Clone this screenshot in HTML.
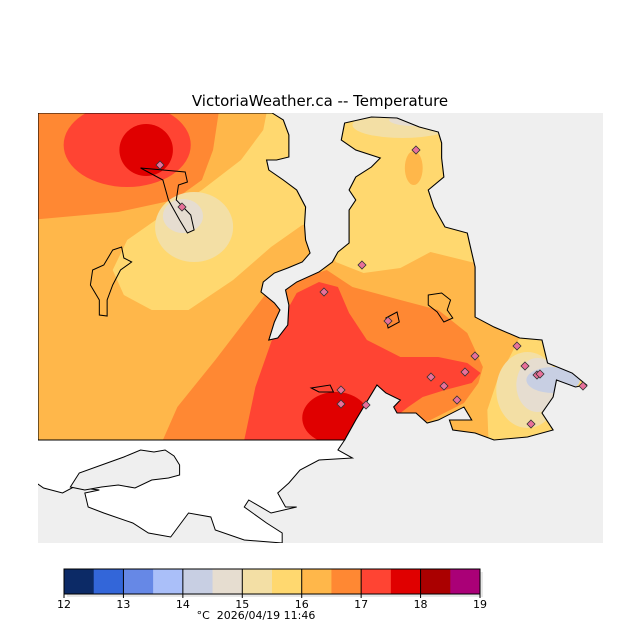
<!DOCTYPE html>
<html><head><meta charset="utf-8"><style>
html,body{margin:0;padding:0;background:#fff;width:640px;height:640px;overflow:hidden}
svg{display:block;font-family:"DejaVu Sans","Liberation Sans",sans-serif}
</style></head><body>
<svg id="chart" width="640" height="640" viewBox="0 0 640 640">
<text x="320" y="106" text-anchor="middle" font-size="15" fill="#000">VictoriaWeather.ca -- Temperature</text>
<defs>
<clipPath id="landclip"><path id="landpath" d="M38,113 L248,113 258,120 263,135 263,157 252,160 243,160 245,170 258,180 270,190 278,207 277,225 278,240 282,253 275,262 262,268 250,273 240,282 238,292 250,303 255,310 250,322 245,340 253,338 262,325 263,305 260,290 270,282 290,272 302,262 307,252 317,243 317,210 323,200 317,190 323,177 337,167 345,158 323,150 310,140 313,123 337,117 360,118 380,127 397,132 400,143 400,158 402,177 388,190 393,207 403,227 423,233 425,243 430,267 430,317 447,327 470,338 490,340 495,363 517,373 530,385 520,387 503,380 500,397 490,413 500,430 477,437 447,440 430,433 410,430 407,420 427,420 420,407 397,420 387,423 377,413 360,413 357,407 363,400 350,393 342,385 330,407 323,420 313,440 38,440 Z"/></clipPath>
<clipPath id="mapclip"><rect x="38" y="113" width="565" height="430"/></clipPath>
</defs>
<rect x="38" y="113" width="565" height="430" fill="#efefef"/>
<g clip-path="url(#mapclip)">
<g transform="translate(38,0) scale(1.115,1) translate(-38,0)">
<g clip-path="url(#landclip)">
<rect x="30" y="113" width="565" height="330" fill="#ffb74a"/>
<path d="M30,113 L200,113 195,150 185,180 160,200 110,212 30,220 Z" fill="#ff8833"/>
<ellipse cx="118" cy="145" rx="57" ry="42" fill="#ff4433"/>
<ellipse cx="135" cy="150" rx="24" ry="26" fill="#e00000"/>
<path d="M243,113 L290,113 290,225 275,225 247,247 213,280 173,310 140,310 115,295 105,270 118,240 150,215 185,190 220,160 240,130 Z" fill="#ffd86f"/>
<ellipse cx="178" cy="227" rx="35" ry="35" fill="#f3dfa5"/>
<ellipse cx="168" cy="216" rx="18" ry="17" fill="#e6ddd0"/>
<path d="M300,113 L440,113 440,263 430,263 390,252 363,268 330,273 305,262 300,240 Z" fill="#ffd86f"/>
<ellipse cx="365" cy="125" rx="45" ry="13" fill="#f3dfa5"/>
<ellipse cx="375" cy="120" rx="22" ry="6" fill="#e6ddd0"/>
<ellipse cx="375" cy="168" rx="8" ry="17" fill="#ffb74a"/>
<path d="M150,440 L163,407 197,360 243,293 262,282 297,270 320,287 363,300 397,310 423,333 437,367 433,383 420,403 390,420 370,425 330,440 Z" fill="#ff8833"/>
<path d="M223,440 L233,387 250,333 270,293 290,282 307,287 317,313 333,340 363,357 397,357 423,363 435,373 427,383 403,390 383,397 370,407 363,413 313,440 Z" fill="#ff4433"/>
<ellipse cx="305" cy="418" rx="30" ry="26" fill="#e00000"/>
<path d="M471,335 L560,335 560,440 442,440 441,410 450,380 462,355 Z" fill="#ffd86f"/>
<ellipse cx="477" cy="390" rx="28" ry="38" fill="#f3dfa5"/>
<ellipse cx="486" cy="385" rx="19" ry="27" fill="#e6ddd0"/>
<ellipse cx="500" cy="380" rx="24" ry="13" fill="#c8cfe3"/>
</g>
<use href="#landpath" fill="none" stroke="#000" stroke-width="1" vector-effect="non-scaling-stroke"/>
<path d="M30,440 L313,440 307,450 320,458 290,460 273,470 263,483 253,493 260,507 270,507 247,513 227,500 223,507 243,523 257,533 257,543 223,540 197,530 193,517 173,513 157,537 137,533 123,523 97,513 83,507 80,493 93,490 70,487 60,493 43,488 30,478 Z" fill="#fff" stroke="#000" stroke-width="1" vector-effect="non-scaling-stroke"/>
<path d="M67,487 L75,473 100,463 115,457 130,450 142,452 152,450 160,456 165,465 165,475 155,478 140,480 125,488 110,485 95,487 80,490 Z" fill="#efefef" stroke="#000" stroke-width="1" vector-effect="non-scaling-stroke"/>
<path d="M105,250 L113,247 115,258 122,262 112,270 105,285 100,300 100,316 93,315 93,300 85,285 87,270 97,265 Z" fill="none" stroke="#000" vector-effect="non-scaling-stroke"/>
<path d="M130,168 L170,172 172,182 164,185 162,200 175,215 178,230 172,233 165,220 155,200 150,180 Z" fill="none" stroke="#000" vector-effect="non-scaling-stroke"/>
<path d="M388,295 L400,293 408,300 405,310 410,318 402,322 396,312 388,305 Z" fill="none" stroke="#000" vector-effect="non-scaling-stroke"/>
<path d="M350,318 L360,312 362,322 352,328 Z M283,388 L300,385 303,392 290,392 Z" fill="none" stroke="#000" vector-effect="non-scaling-stroke"/>
</g>
</g>
<g id="stations"></g>
<g id="colorbar"></g>
<text x="256" y="619" text-anchor="middle" font-size="11" fill="#000" style="white-space:pre">°C  2026/04/19 11:46</text>
</svg>
<script>
const binColors = ["#0c2a66","#3366d9","#6688e6","#aabff9","#c8cfe3","#e6ddd0","#f3dfa5","#ffd86f","#ffb74a","#ff8833","#ff4433","#e00000","#aa0000","#aa0077"];
const tickLabels = [12,13,14,15,16,17,18,19];
const stationX = [160,182,416,362,324,388,475,517,465,431,444,525,537,540,583,341,341,366,457,531];
const stationY = [165,207,150,265,292,321,356,346,372,377,386,366,375,374,386,390,404,405,400,424];
const NS="http://www.w3.org/2000/svg";
const cb=document.getElementById('colorbar');
const x0=64,x1=480,y0=569,h=25,vmin=12,vmax=19;
const sx=v=>x0+(v-vmin)/(vmax-vmin)*(x1-x0);
const shadow=document.createElementNS(NS,'rect');
shadow.setAttribute('x',x0+3);shadow.setAttribute('y',y0+3);shadow.setAttribute('width',x1-x0);shadow.setAttribute('height',h);shadow.setAttribute('fill','#e8e8e8');


cb.appendChild(shadow);
binColors.forEach((c,i)=>{
  const v=vmin+i*0.5;
  const r=document.createElementNS(NS,'rect');
  r.setAttribute('x',sx(v));r.setAttribute('y',y0);r.setAttribute('width',sx(v+0.5)-sx(v)+0.3);r.setAttribute('height',h);r.setAttribute('fill',c);
  
  
  cb.appendChild(r);
});
const fr=document.createElementNS(NS,'rect');
fr.setAttribute('x',x0);fr.setAttribute('y',y0);fr.setAttribute('width',x1-x0);fr.setAttribute('height',h);fr.setAttribute('fill','none');fr.setAttribute('stroke','#000');


cb.appendChild(fr);
tickLabels.forEach(t=>{
  const l=document.createElementNS(NS,'line');
  l.setAttribute('x1',sx(t));l.setAttribute('x2',sx(t));l.setAttribute('y1',y0);l.setAttribute('y2',y0+h+4);l.setAttribute('stroke','#000');
  
  
  cb.appendChild(l);
  const tx=document.createElementNS(NS,'text');
  tx.setAttribute('x',sx(t));tx.setAttribute('y',608);tx.setAttribute('text-anchor','middle');tx.setAttribute('font-size','11');
  tx.textContent=t;
  
  
  cb.appendChild(tx);
});
const st=document.getElementById('stations');
stationX.forEach((x,i)=>{
  const y=stationY[i];
  const p=document.createElementNS(NS,'path');
  p.setAttribute('d',`M${x},${y-4} L${x+4},${y} L${x},${y+4} L${x-4},${y} Z`);
  p.setAttribute('fill','#e8709a');p.setAttribute('stroke','#333');p.setAttribute('stroke-width','0.8');
  
  
  st.appendChild(p);
});
</script>
</body></html>
